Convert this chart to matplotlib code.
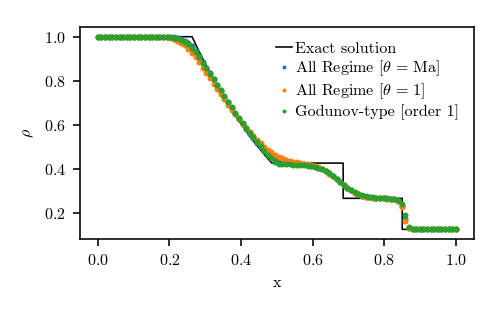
#!/usr/bin/env python3
"""
Density profile of the Sod shock tube: exact solution vs. three schemes
Saves the figure as out.png
"""

import numpy as np
import matplotlib
matplotlib.use("Agg")
import matplotlib.pyplot as plt

# Exact solution
exact_x = [0.0, 0.263, 0.28, 0.30, 0.325, 0.35, 0.375, 0.40, 0.425, 0.45,
           0.47, 0.486, 0.685, 0.685, 0.850, 0.850, 1.0]
exact_rho = [1.0, 1.0, 0.942, 0.877, 0.801, 0.730, 0.664, 0.603, 0.546, 0.494,
             0.455, 0.426, 0.426, 0.266, 0.266, 0.125, 0.125]

# 100 cells between 0 and 1
n_cells = 100

rho_ma = ([1.0] * 20 + [
    0.999, 0.998, 0.995, 0.990, 0.982, 0.971, 0.956, 0.936, 0.912, 0.886,
    0.860, 0.834, 0.808, 0.782, 0.755, 0.728, 0.702, 0.676, 0.651, 0.627,
    0.604, 0.582, 0.560, 0.539, 0.518, 0.499, 0.482, 0.467, 0.455, 0.445,
    0.438, 0.433, 0.430, 0.428, 0.426, 0.425, 0.423, 0.421, 0.418, 0.415,
    0.411, 0.405, 0.398, 0.389, 0.379, 0.367, 0.354, 0.341, 0.327, 0.314,
    0.302, 0.292, 0.284, 0.278, 0.274, 0.271, 0.269, 0.268, 0.267, 0.266,
    0.265, 0.264, 0.262, 0.255, 0.230, 0.172, 0.133, 0.126] + [0.125] * 12)

rho_one = ([1.0] * 18 + [
    0.999, 0.997, 0.994, 0.989, 0.982, 0.973, 0.961, 0.946, 0.928, 0.907,
    0.884, 0.860, 0.836, 0.811, 0.787, 0.763, 0.739, 0.715, 0.692, 0.669,
    0.647, 0.625, 0.604, 0.585, 0.566, 0.548, 0.531, 0.515, 0.500, 0.487,
    0.475, 0.464, 0.455, 0.448, 0.442, 0.437, 0.433, 0.430, 0.427, 0.424,
    0.421, 0.417, 0.412, 0.406, 0.398, 0.389, 0.378, 0.366, 0.353, 0.340,
    0.327, 0.314, 0.302, 0.292, 0.284, 0.278, 0.274, 0.271, 0.269, 0.268,
    0.267, 0.266, 0.265, 0.264, 0.261, 0.252, 0.225, 0.165, 0.132, 0.126]
    + [0.125] * 12)

rho_godunov = ([1.0] * 19 + [
    0.999, 0.998, 0.996, 0.992, 0.987, 0.978, 0.966, 0.950, 0.930, 0.907,
    0.882, 0.857, 0.832, 0.807, 0.782, 0.756, 0.730, 0.705, 0.680, 0.655,
    0.631, 0.608, 0.586, 0.564, 0.543, 0.522, 0.502, 0.483, 0.465, 0.447,
    0.430, 0.422, 0.421, 0.420, 0.420, 0.419, 0.419, 0.418, 0.417, 0.415,
    0.413, 0.410, 0.405, 0.398, 0.390, 0.380, 0.368, 0.355, 0.342, 0.328,
    0.315, 0.303, 0.293, 0.285, 0.279, 0.275, 0.272, 0.270, 0.269, 0.268,
    0.267, 0.266, 0.265, 0.263, 0.258, 0.240, 0.190, 0.138, 0.127]
    + [0.125] * 12)

plt.rcParams['font.family'] = 'serif'
plt.rcParams['font.serif'] = ['cmr10']
plt.rcParams['mathtext.fontset'] = 'cm'
plt.rcParams['axes.formatter.use_mathtext'] = True
plt.rcParams['font.size'] = 8


def main():
    x = np.linspace(0.0, 1.0, n_cells)

    fig = plt.figure(figsize=(503 / 144, 311 / 144), dpi=144)
    ax = fig.add_axes([0.159, 0.2315, 0.783, 0.6815])

    ax.plot(exact_x, exact_rho, color='black', lw=0.8, label='Exact solution')
    ax.plot(x, rho_ma, 'o', ls='', ms=2, color='C0',
            label=r'All Regime [$\theta\,=\,\mathrm{Ma}$]')
    ax.plot(x, rho_one, 'o', ls='', ms=2, color='C1',
            label=r'All Regime [$\theta\,=\,1$]')
    ax.plot(x, rho_godunov, 'o', ls='', ms=2, color='C2',
            label='Godunov-type [order 1]')

    ax.set_xlabel('x')
    ax.set_ylabel(r'$\rho$')
    ax.set_xticks([0.0, 0.2, 0.4, 0.6, 0.8, 1.0])
    ax.set_yticks([0.2, 0.4, 0.6, 0.8, 1.0])

    ax.legend(loc='upper right', frameon=False, markerscale=0.5,
              handlelength=1.0, handletextpad=0.2, numpoints=1,
              labelspacing=0.2)

    fig.savefig('out.png', dpi=144)


if __name__ == "__main__":
    main()
